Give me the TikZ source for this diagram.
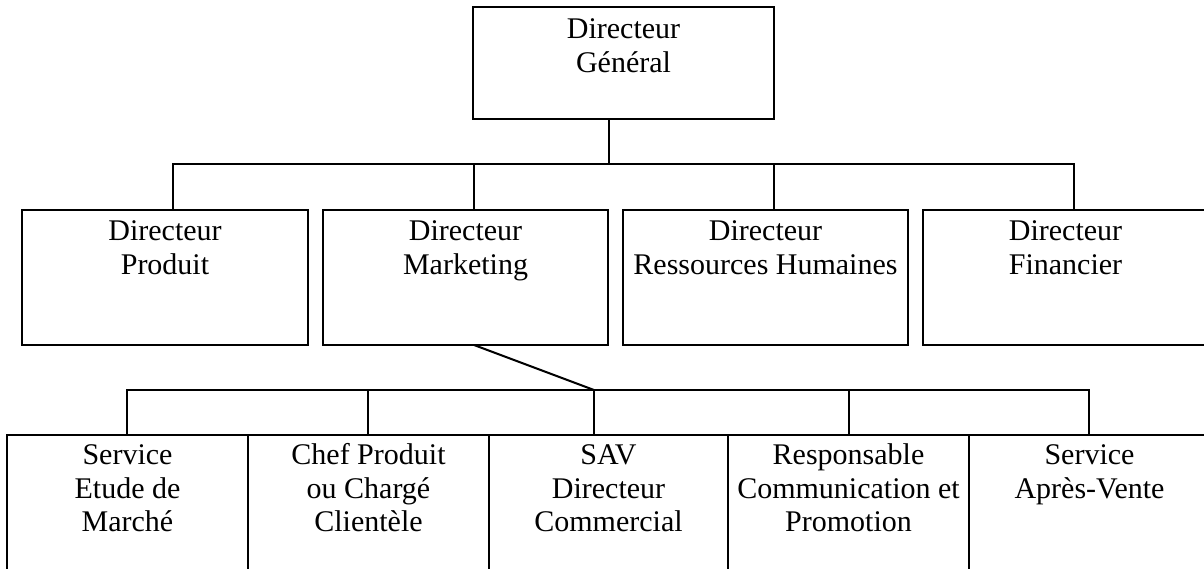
\documentclass[tikz,border=0pt]{standalone}
\usepackage{fontspec}
\setmainfont{Liberation Serif}
\begin{document}
\begin{tikzpicture}[x=1pt,y=-1pt,
  box/.style={draw=black, line width=1.6pt, rectangle, inner sep=0pt, outer sep=0pt},
  lbl/.style={anchor=north, inner sep=0pt, outer sep=0pt, align=center,
              font=\fontsize{30}{33.5}\selectfont},
  link/.style={draw=black, line width=1.6pt}]
\useasboundingbox (0,0) rectangle (1204,569);
\clip (0,0) rectangle (1204,569);
% top box
\node[box, minimum width=301pt, minimum height=112pt] (g) at (623.5,63) {};
\node[lbl] (gt) at ([yshift=-9pt]g.north) {\rule{0pt}{23pt}Directeur\\Général};
% middle row
\node[box, minimum width=286pt, minimum height=135pt] (p) at (165,277.5) {};
\node[box, minimum width=285pt, minimum height=135pt] (m) at (465.5,277.5) {};
\node[box, minimum width=285pt, minimum height=135pt] (r) at (765.5,277.5) {};
\node[box, minimum width=285pt, minimum height=135pt] (f) at (1065.5,277.5) {};
\node[lbl] (pt) at ([yshift=-7.5pt]p.north) {\rule{0pt}{23pt}Directeur\\Produit};
\node[lbl] (mt) at ([yshift=-7.5pt]m.north) {\rule{0pt}{23pt}Directeur\\Marketing};
\node[lbl] (rt) at ([yshift=-7.5pt]r.north) {\rule{0pt}{23pt}Directeur\\Ressources Humaines};
\node[lbl] (ft) at ([yshift=-7.5pt]f.north) {\rule{0pt}{23pt}Directeur\\Financier};
% bottom row
\node[box, minimum width=241pt, minimum height=165pt] (s1) at (127.5,517.5) {};
\node[box, minimum width=241pt, minimum height=165pt] (s2) at (368.5,517.5) {};
\node[box, minimum width=239pt, minimum height=165pt] (s3) at (608.5,517.5) {};
\node[box, minimum width=241pt, minimum height=165pt] (s4) at (848.5,517.5) {};
\node[box, minimum width=241pt, minimum height=165pt] (s5) at (1089.5,517.5) {};
\node[lbl] (s1t) at ([yshift=-6.5pt]s1.north) {\rule{0pt}{23pt}Service\\Etude de\\Marché};
\node[lbl] (s2t) at ([yshift=-6.5pt]s2.north) {\rule{0pt}{23pt}Chef Produit\\ou Chargé\\Clientèle};
\node[lbl] (s3t) at ([yshift=-6.5pt]s3.north) {\rule{0pt}{23pt}SAV\\Directeur\\Commercial};
\node[lbl] (s4t) at ([yshift=-6.5pt]s4.north) {\rule{0pt}{23pt}Responsable\\Communication et\\Promotion};
\node[lbl] (s5t) at ([yshift=-6.5pt]s5.north) {\rule{0pt}{23pt}Service\\Après-Vente};
% connectors top -> middle
\coordinate (b1) at ([xshift=-14.5pt,yshift=-45pt]g.south);
\coordinate (pn) at ([xshift=8pt]p.north);
\coordinate (mn) at ([xshift=8.5pt]m.north);
\coordinate (rn) at ([xshift=8.5pt]r.north);
\coordinate (fn) at ([xshift=8.5pt]f.north);
\draw[link] ([xshift=-14.5pt]g.south) -- (b1);
\draw[link] (pn) |- (fn |- b1) -- (fn);
\draw[link] (mn |- b1) -- (mn);
\draw[link] (rn |- b1) -- (rn);
% connectors marketing -> bottom
\coordinate (j) at ([xshift=-14.5pt,yshift=45pt]s3.north);
\coordinate (n1) at ([xshift=-0.5pt]s1.north);
\coordinate (n2) at ([xshift=-0.5pt]s2.north);
\coordinate (n4) at ([xshift=0.5pt]s4.north);
\coordinate (n5) at ([xshift=-0.5pt]s5.north);
\draw[link, line width=2pt] ([xshift=8.5pt]m.south) -- (j);
\draw[link] (n1) |- (n5 |- j) -- (n5);
\draw[link] (n2 |- j) -- (n2);
\draw[link] (j) -- ([xshift=-14.5pt]s3.north);
\draw[link] (n4 |- j) -- (n4);
\end{tikzpicture}
\end{document}
